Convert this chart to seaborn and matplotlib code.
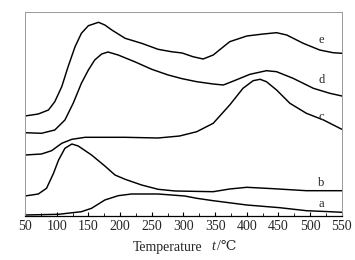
import matplotlib
matplotlib.use('Agg')
import matplotlib.pyplot as plt
import numpy as np
import pandas as pd
import seaborn as sns
from matplotlib.ticker import MultipleLocator

# curves (temperature in C, signal in arbitrary units)
temp_a = [50, 103, 139, 155, 176, 197, 218, 260, 302, 321, 347, 400, 452, 494, 531, 550]
sig_a = [0.7, 1.4, 4, 7.4, 15.7, 20, 21.7, 21.7, 19.7, 17.4, 15, 10.7, 8, 5, 4, 3.4]

temp_b = [50, 71, 84, 95, 103, 113, 124, 134, 155, 176, 192, 208, 234, 260, 287,
          347, 373, 400, 442, 494, 550]
sig_b = [19.7, 21.7, 27.4, 42.4, 55.7, 67.4, 71.7, 69.7, 60.7, 49.7, 40.7, 36.4, 30.7, 26.4, 24.7,
         24, 26.7, 28.4, 27, 25, 25]

temp_c = [50, 76, 92, 108, 124, 145, 208, 260, 294, 321, 347, 373, 394, 410, 421, 431,
          447, 468, 494, 521, 550]
sig_c = [60.7, 61.7, 65, 72.4, 76.4, 78.4, 78.4, 77.7, 79.7, 84, 92.4, 110.7, 127.4, 135, 136.4, 134,
         125.7, 112.4, 102.4, 95.7, 86.4]

temp_d = [50, 76, 97, 113, 126, 139, 150, 160, 171, 181, 197, 223, 250, 276, 298,
          321, 347, 363, 379, 405, 431, 447, 473, 505, 531, 550]
sig_d = [83, 82.4, 85.7, 95.7, 112.4, 132.4, 145.7, 155.7, 161.7, 163.7, 160.7, 154, 146.4, 140.7, 137,
         134, 131.7, 130.7, 134.7, 141.4, 145, 144, 137.4, 127.4, 122.4, 119.7]

temp_e = [50, 71, 87, 97, 108, 118, 129, 139, 150, 166, 176, 187, 208, 234, 260, 281, 298,
          315, 331, 347, 373, 400, 426, 447, 463, 489, 515, 536, 550]
sig_e = [99.7, 101.7, 105.7, 114, 129, 149, 169, 182.4, 190, 193.4, 190.7, 185.7, 177.4, 172.4, 166.4, 164, 162.7,
         159, 156.7, 160.7, 174, 179.7, 181.7, 183, 180.7, 172.4, 165.7, 163, 162.4]

labels = ['a', 'b', 'c', 'd', 'e']
label_x = [518, 518, 518, 518, 518]
label_y = [11.7, 33, 99, 135.7, 175.7]

frames = []
for lab, t, s in zip(labels, [temp_a, temp_b, temp_c, temp_d, temp_e],
                     [sig_a, sig_b, sig_c, sig_d, sig_e]):
    frames.append(pd.DataFrame({'temp': t, 'signal': s, 'sample': lab}))
df = pd.concat(frames, ignore_index=True)

sns.set_style("white")
plt.rcParams['font.family'] = ['Liberation Serif', 'DejaVu Serif']

fig = plt.figure(figsize=(3.55, 2.6), dpi=100)
ax = fig.add_axes([0.0704, 0.1704, 0.8926, 0.7846])

sns.lineplot(data=df, x='temp', y='signal', units='sample', estimator=None,
             color='black', linewidth=1.05, ax=ax, legend=False)

for lab, lx, ly in zip(labels, label_x, label_y):
    ax.text(lx, ly, lab, fontsize=9, ha='center', va='center')

ax.set_xlim(50, 550)
ax.set_ylim(0, 204)
ax.set_yticks([])
ax.xaxis.set_major_locator(MultipleLocator(50))
ax.xaxis.set_minor_locator(MultipleLocator(25))
ax.tick_params(axis='x', which='major', direction='in', length=3, width=0.8,
               labelsize=10, pad=3, bottom=True, color='black')
ax.tick_params(axis='x', which='minor', direction='in', length=2, width=0.6,
               bottom=True, color='black')

for side in ['left', 'top', 'right']:
    ax.spines[side].set_color('#999999')
    ax.spines[side].set_linewidth(0.7)
ax.spines['bottom'].set_color('black')
ax.spines['bottom'].set_linewidth(0.9)

ax.set_xlabel('')
ax.set_ylabel('')

# axis title: "Temperature", italic t and the unit
fig.text(133 / 355, 1 - 247 / 260, 'Temperature', fontsize=10, ha='left', va='center')
fig.text(211 / 355, 1 - 247 / 260, 't', fontsize=10, style='italic', ha='left', va='center')
fig.text(217 / 355, 1 - 247 / 260, '/\u2103', fontsize=10, ha='left', va='center',
         family=['Liberation Serif', 'DejaVu Serif', 'DejaVu Sans'])

plt.savefig('out.png', dpi=100)
